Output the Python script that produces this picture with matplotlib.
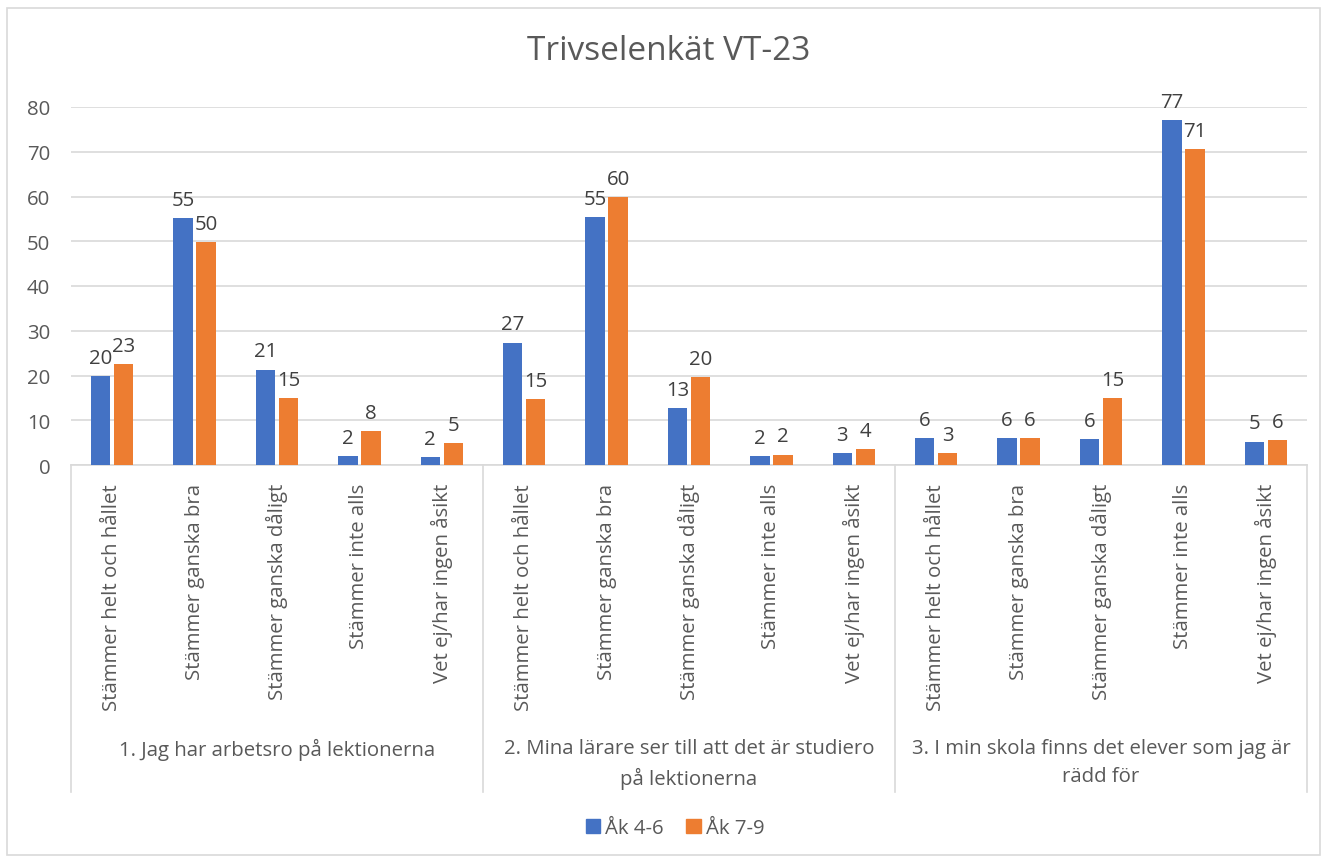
import matplotlib
matplotlib.use("Agg")
import matplotlib.pyplot as plt
from matplotlib.patches import Patch, Rectangle
import numpy as np

plt.rcParams['font.family'] = ['Open Sans', 'DejaVu Sans']

title = "Trivselenkät VT-23"
groups = ["1. Jag har arbetsro på lektionerna",
          "2. Mina lärare ser till att det är studiero\npå lektionerna",
          "3. I min skola finns det elever som jag är\nrädd för"]
answers = ["Stämmer helt och hållet", "Stämmer ganska bra", "Stämmer ganska dåligt",
           "Stämmer inte alls", "Vet ej/har ingen åsikt"]
series_names = ["Åk 4-6", "Åk 7-9"]
ak46 = [19.9, 55.2, 21.3, 2.0, 1.7,
        27.3, 55.4, 12.7, 2.0, 2.6,
        6.0, 6.0, 5.8, 77.1, 5.2]
ak79 = [22.6, 49.8, 15.0, 7.6, 4.9,
        14.7, 59.9, 19.7, 2.3, 3.6,
        2.7, 6.0, 15.0, 70.6, 5.6]
yticks = [0, 10, 20, 30, 40, 50, 60, 70, 80]

colors = ["#4472C4", "#ED7D31"]
txt = "#595959"
grid = "#D9D9D9"
fs = 14.7

W, H = 1327, 862
fig = plt.figure(figsize=(W / 100, H / 100), dpi=100)
fig.patch.set_facecolor("white")
fig.add_artist(Rectangle((7 / W, 1 - 856 / H), (1320 - 7) / W, (856 - 9) / H,
                         transform=fig.transFigure, fill=False, edgecolor=grid, lw=1.2))

left, right, top, bottom = 71, 1307, 108, 466
ax = fig.add_axes([left / W, 1 - bottom / H, (right - left) / W, (bottom - top) / H])

n = len(ak46)
x = np.arange(n)
bw = 0.235
off = 0.14
b1 = ax.bar(x - off, ak46, bw, color=colors[0], zorder=3)
b2 = ax.bar(x + off, ak79, bw, color=colors[1], zorder=3)

for bars, vals in ((b1, ak46), (b2, ak79)):
    for b, v in zip(bars, vals):
        ax.annotate(f"{v:.0f}", (b.get_x() + b.get_width() / 2, v),
                    xytext=(0, 6), textcoords="offset points",
                    ha="center", va="bottom", fontsize=fs, color="#404040")

ax.set_xlim(-0.5, n - 0.5)
ax.set_ylim(0, 80)
ax.set_yticks(yticks)
ax.set_yticklabels([str(t) for t in yticks])
ax.tick_params(axis="y", length=0, pad=15, labelsize=fs, labelcolor=txt)
ax.set_xticks([])
for s in ("left", "right", "top"):
    ax.spines[s].set_visible(False)
ax.spines["bottom"].set_color(grid)
ax.spines["bottom"].set_linewidth(1.2)
ax.grid(axis="y", color=grid, lw=1.2, zorder=0)
ax.set_axisbelow(True)

ng = len(groups)
na = len(answers)
for i in range(n):
    ax.annotate(answers[i % na], (i, 0), xycoords=("data", "axes fraction"),
                xytext=(0, -13), textcoords="offset points",
                rotation=90, ha="center", va="top", fontsize=fs, color=txt)

sep_bottom = (bottom - 793) / (bottom - top)
for g in range(ng + 1):
    xs = g * na - 0.5
    ax.plot([xs, xs], [0, sep_bottom], transform=ax.get_xaxis_transform(),
            color=grid, lw=1.2, clip_on=False)

lab_y = (bottom - 739) / (bottom - top)
for g in range(ng):
    ax.text(g * na + (na - 1) / 2, lab_y, groups[g], transform=ax.get_xaxis_transform(),
            ha="center", va="top", fontsize=fs, color=txt, linespacing=1.55)

fig.text(0.5 + 5 / W, 1 - 52 / H, title, ha="center", va="center", fontsize=24, color=txt)

handles = [Patch(color=c) for c in colors]
fig.legend(handles, series_names, loc="center", bbox_to_anchor=(675 / W, 1 - 829 / H),
           ncol=2, frameon=False, fontsize=fs, handlelength=0.7, handleheight=0.7,
           handletextpad=0.25, columnspacing=1.1, labelcolor=txt)

fig.savefig("out.png", dpi=100)
